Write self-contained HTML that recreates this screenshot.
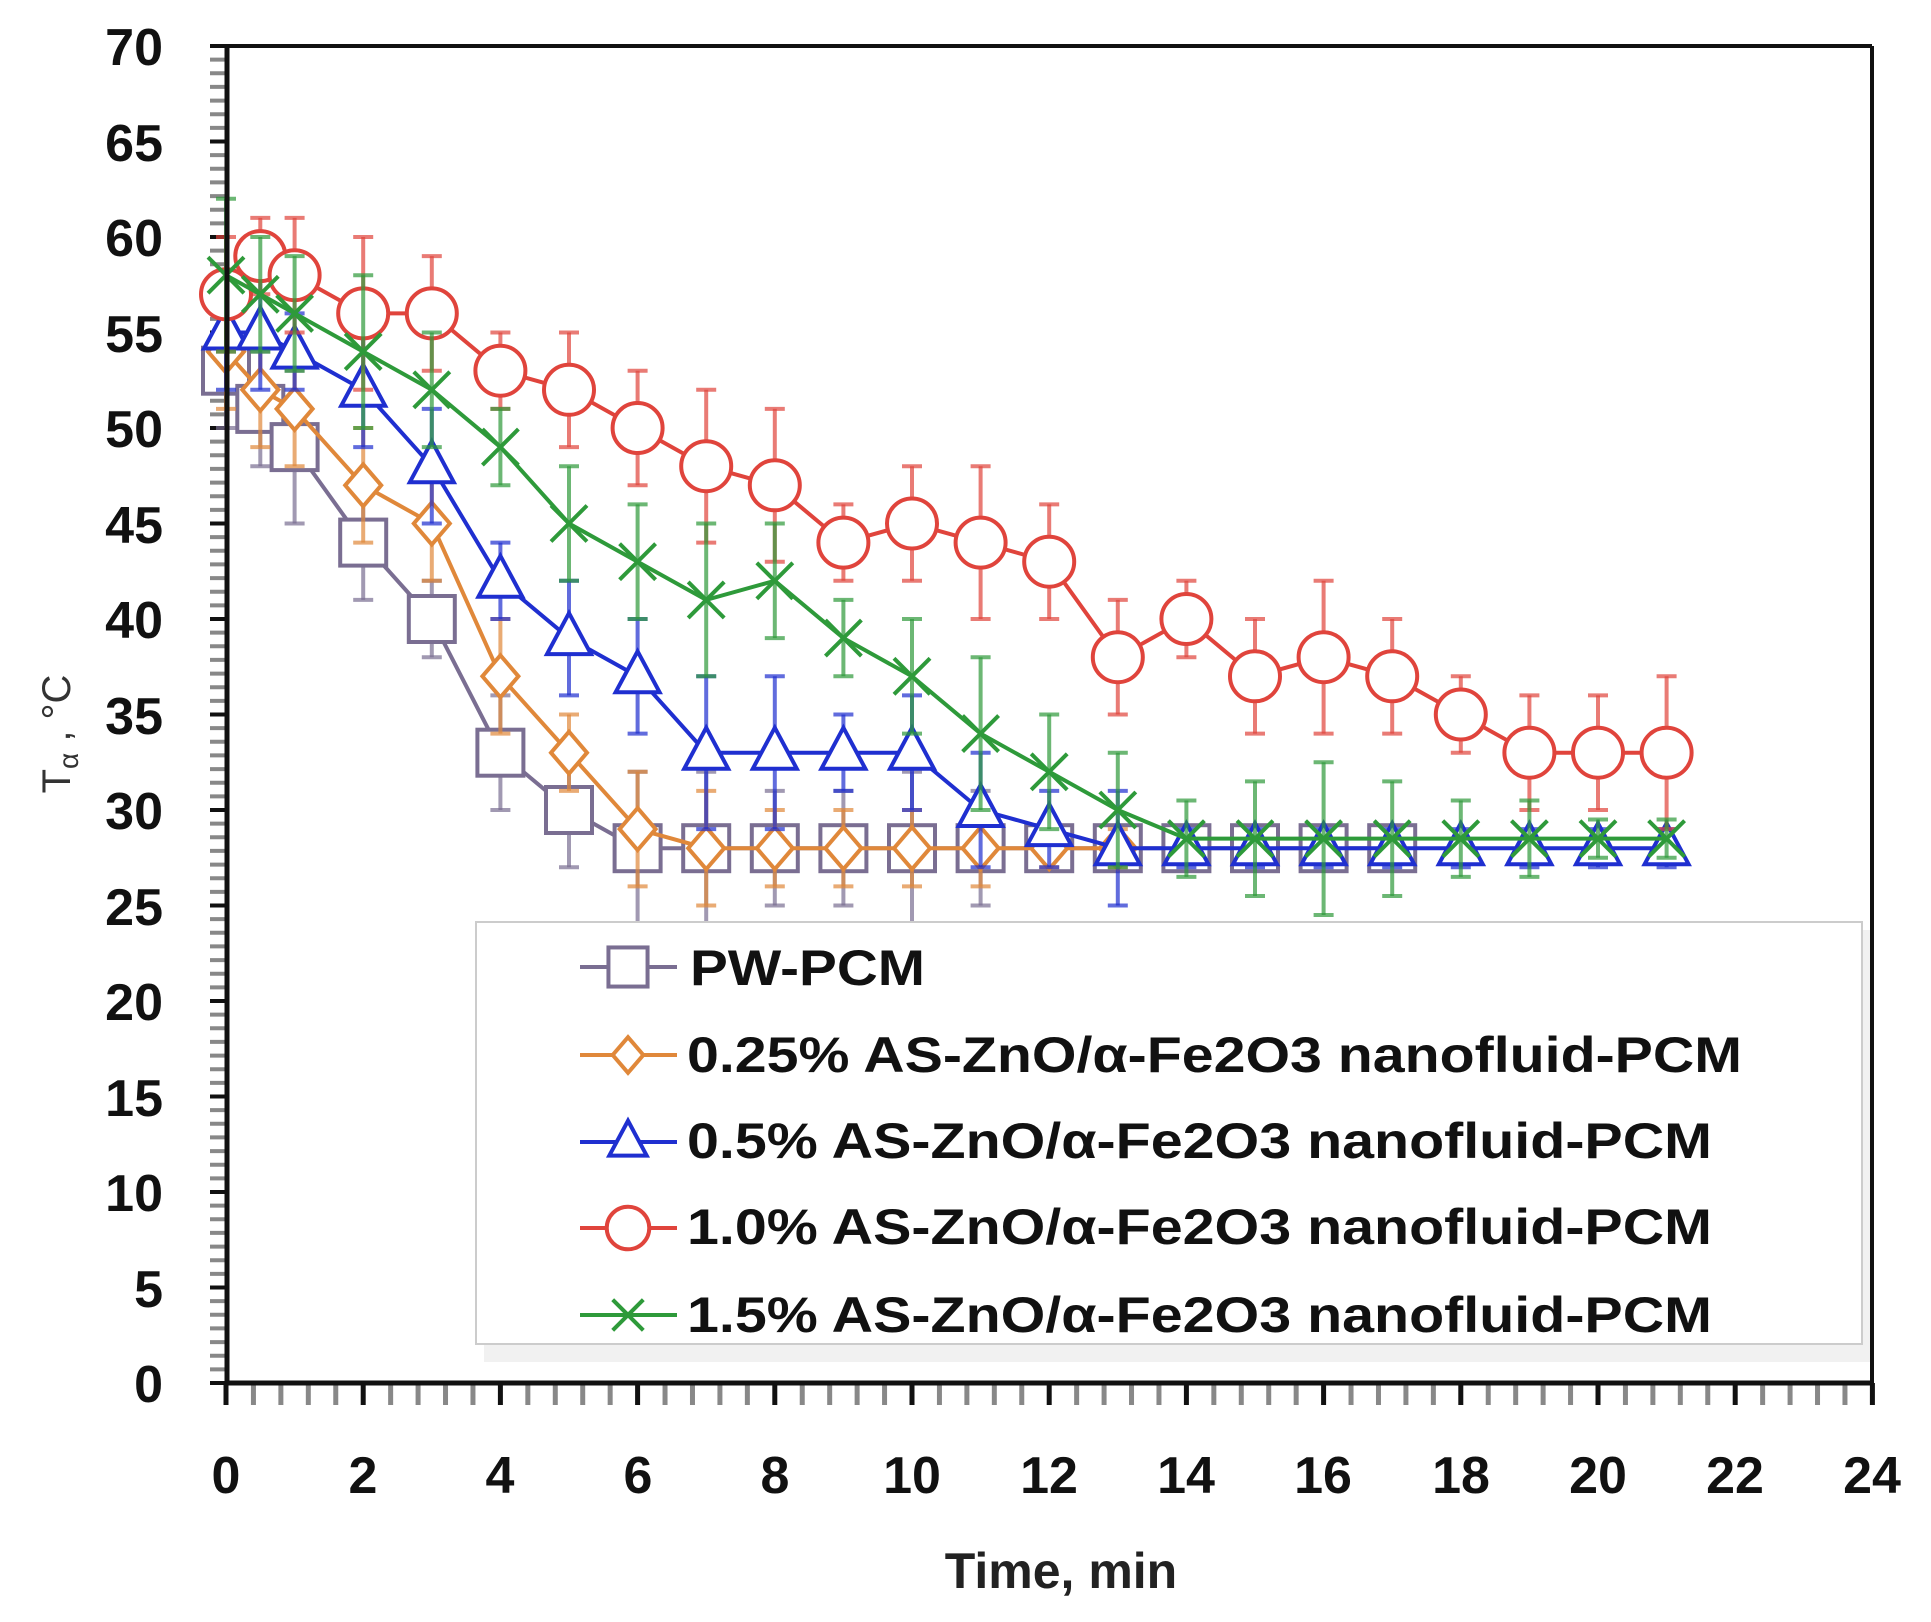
<!DOCTYPE html>
<html><head><meta charset="utf-8"><style>
html,body{margin:0;padding:0;background:#fff;}
svg{display:block;}
text{font-family:"Liberation Sans",sans-serif;}
</style></head><body>
<svg id="c" width="1931" height="1622" viewBox="0 0 1931 1622" xmlns="http://www.w3.org/2000/svg">
<g id="ticks"></g>
<line x1="227" y1="46" x2="1872" y2="46" stroke="#111" stroke-width="4"/>
<line x1="1872" y1="46" x2="1872" y2="1383" stroke="#111" stroke-width="4"/>
<g id="series"></g>
<rect x="484" y="930" width="1386" height="432" fill="#e4e4e4" opacity="0.5"/>
<rect x="476" y="922" width="1386" height="422" fill="#fff" stroke="#ccc" stroke-width="2"/>
<g id="leg"></g>
<line x1="227" y1="46" x2="227" y2="1385" stroke="#111" stroke-width="5"/>
<line x1="225" y1="1383" x2="1874" y2="1383" stroke="#111" stroke-width="5"/>
<g font-weight="bold" font-size="52" fill="#111" text-anchor="end">
<text x="163" y="65">70</text><text x="163" y="161">65</text><text x="163" y="256">60</text><text x="163" y="352">55</text><text x="163" y="447">50</text><text x="163" y="543">45</text><text x="163" y="638">40</text><text x="163" y="734">35</text><text x="163" y="829">30</text><text x="163" y="925">25</text><text x="163" y="1020">20</text><text x="163" y="1116">15</text><text x="163" y="1211">10</text><text x="163" y="1307">5</text><text x="163" y="1402">0</text>
</g>
<g font-weight="bold" font-size="52" fill="#111" text-anchor="middle">
<text x="226" y="1493">0</text><text x="363" y="1493">2</text><text x="500" y="1493">4</text><text x="638" y="1493">6</text><text x="775" y="1493">8</text><text x="912" y="1493">10</text><text x="1049" y="1493">12</text><text x="1186" y="1493">14</text><text x="1323" y="1493">16</text><text x="1461" y="1493">18</text><text x="1598" y="1493">20</text><text x="1735" y="1493">22</text><text x="1872" y="1493">24</text>
</g>
<text x="1061" y="1588" font-weight="bold" font-size="50" fill="#222" text-anchor="middle">Time, min</text>
<text transform="translate(70,734) rotate(-90)" font-size="40" fill="#333" text-anchor="middle">T<tspan font-size="28" dy="8">α</tspan><tspan dy="-8"> , °C</tspan></text>
<g font-weight="bold" font-size="50" fill="#111">
<text x="690" y="985" textLength="235" lengthAdjust="spacingAndGlyphs">PW-PCM</text>
<text x="687" y="1072" textLength="1055" lengthAdjust="spacingAndGlyphs">0.25% AS-ZnO/α-Fe2O3  nanofluid-PCM</text>
<text x="687" y="1158" textLength="1025" lengthAdjust="spacingAndGlyphs">0.5% AS-ZnO/α-Fe2O3  nanofluid-PCM</text>
<text x="687" y="1244" textLength="1025" lengthAdjust="spacingAndGlyphs">1.0% AS-ZnO/α-Fe2O3  nanofluid-PCM</text>
<text x="687" y="1332" textLength="1025" lengthAdjust="spacingAndGlyphs">1.5% AS-ZnO/α-Fe2O3  nanofluid-PCM</text>
</g>
</svg>
<script>
const NS="http://www.w3.org/2000/svg";
const X=t=>226+68.6*t, Y=v=>1383-19.1*v;
function el(p,n,a){const e=document.createElementNS(NS,n);for(const k in a)e.setAttribute(k,a[k]);p.appendChild(e);return e;}
const tk=document.getElementById('ticks');
for(let i=0;i<=60;i++){const x=X(i*0.4);el(tk,'line',{x1:x,y1:1383,x2:x,y2:1405,stroke:i%5==0?'#111':'#888','stroke-width':5});}
for(let i=0;i<=98;i++){const y=Y(i*5/7);el(tk,'line',{x1:210,y1:y,x2:227,y2:y,stroke:i%7==0?'#111':'#888','stroke-width':4});}
const S=[
{c:'#7a6e92',m:'sq',d:[[0,53,3],[0.5,51,3],[1,49,4],[2,44,3],[3,40,2],[4,33,3],[5,30,3],[6,28,4],[7,28,4],[8,28,3],[9,28,3],[10,28,4],[11,28,3],[12,28,1],[13,28,1],[14,28,1],[15,28,1],[16,28,1],[17,28,1]]},
{c:'#e0883a',m:'di',d:[[0,54,3],[0.5,52,3],[1,51,3],[2,47,3],[3,45,3],[4,37,3],[5,33,2],[6,29,3],[7,28,3],[8,28,2],[9,28,2],[10,28,2],[11,28,2],[12,28,1],[13,28,1]]},
{c:'#1f2fd0',m:'tr',d:[[0,55,3],[0.5,55,3],[1,54,2],[2,52,3],[3,48,3],[4,42,2],[5,39,3],[6,37,3],[7,33,4],[8,33,4],[9,33,2],[10,33,3],[11,30,3],[12,29,2],[13,28,3],[14,28,1],[15,28,1],[16,28,1],[17,28,1],[18,28,1],[19,28,1],[20,28,1],[21,28,1]]},
{c:'#e0443c',m:'ci',d:[[0,57,3],[0.5,59,2],[1,58,3],[2,56,4],[3,56,3],[4,53,2],[5,52,3],[6,50,3],[7,48,4],[8,47,4],[9,44,2],[10,45,3],[11,44,4],[12,43,3],[13,38,3],[14,40,2],[15,37,3],[16,38,4],[17,37,3],[18,35,2],[19,33,3],[20,33,3],[21,33,4]]},
{c:'#2e9a3a',m:'x',d:[[0,58,4],[0.5,57,3],[1,56,3],[2,54,4],[3,52,3],[4,49,2],[5,45,3],[6,43,3],[7,41,4],[8,42,3],[9,39,2],[10,37,3],[11,34,4],[12,32,3],[13,30,3],[14,28.5,2],[15,28.5,3],[16,28.5,4],[17,28.5,3],[18,28.5,2],[19,28.5,2],[20,28.5,1],[21,28.5,1]]}
];
function marker(g,m,x,y,c,k){
 k=k||1;
 const a={fill:'#fff',stroke:c,'stroke-width':4};
 if(m=='sq')el(g,'rect',Object.assign({x:x-23*k,y:y-23*k,width:46*k,height:46*k},a));
 if(m=='di')el(g,'polygon',Object.assign({points:`${x},${y-21*k} ${x+18*k},${y} ${x},${y+21*k} ${x-18*k},${y}`},a));
 if(m=='tr')el(g,'polygon',Object.assign({points:`${x},${y-25*k} ${x+22*k},${y+16*k} ${x-22*k},${y+16*k}`},a));
 if(m=='ci')el(g,'circle',Object.assign({cx:x,cy:y,r:25*k},a));
 if(m=='x'){const r=18*k;el(g,'line',{x1:x-r,y1:y-r,x2:x+r,y2:y+r,stroke:c,'stroke-width':4});el(g,'line',{x1:x+r,y1:y-r,x2:x-r,y2:y+r,stroke:c,'stroke-width':4});}
}
const sg=document.getElementById('series');
S.forEach(s=>{
 const g=el(sg,'g',{});
 s.d.forEach(p=>{const x=X(p[0]),y1=Y(p[1]+p[2]),y2=Y(p[1]-p[2]);
  el(g,'line',{x1:x,y1:y1,x2:x,y2:y2,stroke:s.c,'stroke-width':4,opacity:0.7});
  el(g,'line',{x1:x-10,y1:y1,x2:x+10,y2:y1,stroke:s.c,'stroke-width':4,opacity:0.7});
  el(g,'line',{x1:x-10,y1:y2,x2:x+10,y2:y2,stroke:s.c,'stroke-width':4,opacity:0.7});});
 el(g,'polyline',{points:s.d.map(p=>X(p[0])+','+Y(p[1])).join(' '),fill:'none',stroke:s.c,'stroke-width':4});
 s.d.forEach(p=>marker(g,s.m,X(p[0]),Y(p[1]),s.c));
});
const lg=document.getElementById('leg');
const ly=[967,1055,1142,1228,1315];
S.forEach((s,i)=>{el(lg,'line',{x1:580,y1:ly[i],x2:677,y2:ly[i],stroke:s.c,'stroke-width':4});marker(lg,s.m,628,ly[i],s.c,0.85);});
</script>
</body></html>
